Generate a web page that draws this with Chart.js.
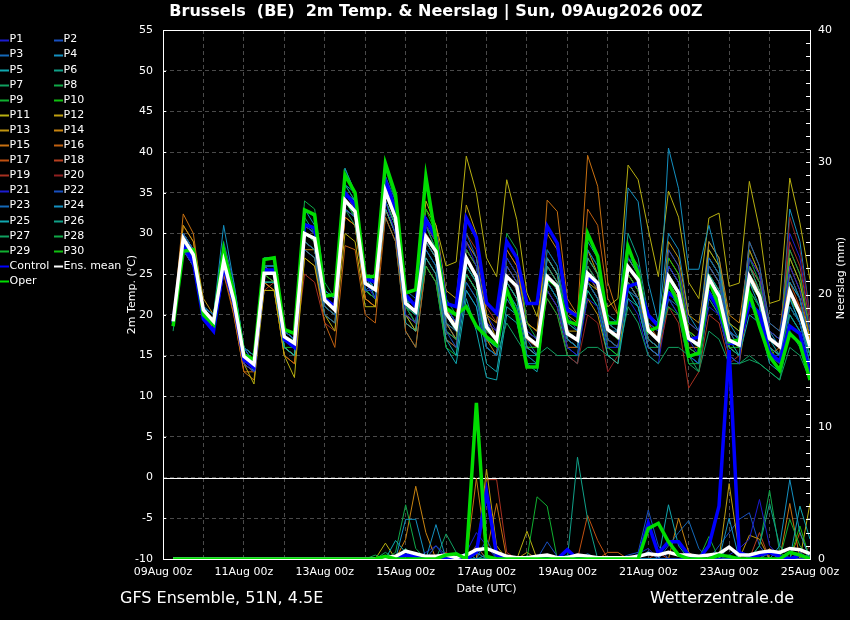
<!DOCTYPE html>
<html>
<head>
<meta charset="utf-8">
<script src="https://cdn.jsdelivr.net/npm/chart.js@4.4.1/dist/chart.umd.min.js"></script>
<style>
  html, body { margin: 0; padding: 0; background: #000; }
  canvas { display: block; }
</style>
</head>
<body>
<canvas id="ensChart" width="850" height="620"></canvas>
<script>
// GFS ensemble plume, Brussels: 2m temperature (left axis) and 6h precipitation (right axis)
// one value per 6 hours, from +6h (09Aug 06z) to +384h (25Aug 00z)

const dateLabels = ['09Aug 00z', '11Aug 00z', '13Aug 00z', '15Aug 00z', '17Aug 00z',
  '19Aug 00z', '21Aug 00z', '23Aug 00z', '25Aug 00z'];

const tempMean = [19.2,29.4,27.4,20.6, 19.2,26.6,21.8,14.9, 13.9,25.1,25.1,17.3, 16.5,30.0,29.4,21.8,
  20.6,34.1,32.7,23.9, 23.1,35.2,31.9,21.4, 20.4,29.6,27.8,20.2, 18.4,27.0,24.7,18.5,
  16.9,24.7,23.5,17.3, 16.3,24.7,23.5,17.7, 16.9,25.1,23.9,18.2, 17.3,25.9,24.3,18.1,
  16.9,24.7,22.7,17.1, 16.3,24.5,22.3,16.9, 16.3,24.7,22.3,17.1, 16.1,22.9,20.2,16.1];
const tempCtrl = [19.0,28.5,26.5,19.5, 18.0,26.0,21.5,14.5, 13.5,25.5,25.5,17.0, 16.0,31.1,30.7,22.0,
  21.0,35.0,33.5,24.5, 24.0,36.5,33.0,22.5, 21.0,31.7,29.5,21.4, 21.0,31.9,29.5,21.5,
  20.2,29.0,27.0,21.4, 21.4,30.9,28.8,20.6, 19.8,24.5,23.9,19.0, 19.0,23.5,23.9,20.0,
  18.6,22.7,21.8,16.9, 17.3,22.7,20.6,16.5, 16.5,21.4,20.2,15.3, 14.3,18.6,17.7,12.8];
const tempOper = [18.6,27.8,28.0,20.0, 18.8,28.0,22.7,15.1, 14.5,26.8,27.0,18.2, 17.7,32.9,32.3,22.3,
  22.5,37.2,35.0,24.7, 24.7,38.6,34.8,22.7, 23.1,37.0,29.2,20.8, 20.0,21.0,18.6,17.3,
  16.3,23.1,20.0,13.6, 13.6,24.5,23.5,19.2, 18.8,30.0,27.2,19.0, 19.0,28.4,25.1,18.0,
  18.5,23.9,21.4,14.9, 15.3,24.3,21.0,16.7, 16.9,22.7,18.6,14.9, 13.2,17.7,16.5,12.0];

const t01 = [19,28,26,20, 18,26,21,14, 13,25,25,17, 16,31,30,22, 21,35,33,24, 22,34,30,20, 19,31,29,21, 19,29,26,19, 18,27,25,18, 17,23,21,16, 15,22,21,16, 16,27,26,19, 18,26,24,17, 15,21,20,15, 14,27,25,18, 17,26,23,18];
const t02 = [19,30,28,21, 20,28,23,16, 14,26,26,18, 17,29,28,21, 20,33,32,23, 23,36,33,22, 21,28,26,18, 16,24,22,16, 15,26,24,18, 17,28,26,20, 18,24,22,17, 16,23,22,16, 15,28,26,19, 18,27,25,18, 17,22,20,15, 15,21,19,14];
const t03 = [19,28,26,20, 18,28,23,16, 15,26,25,17, 16,28,27,20, 19,33,32,23, 24,37,34,23, 22,32,29,21, 19,30,27,19, 17,22,20,15, 14,24,22,17, 16,28,26,19, 18,24,22,17, 16,22,21,15, 14,26,24,18, 17,29,26,19, 18,25,22,16];
const t04 = [19,30,28,21, 20,31,24,16, 14,26,26,18, 17,33,31,23, 22,38,35,25, 24,36,33,22, 20,29,27,19, 18,26,24,17, 16,24,22,16, 15,27,25,19, 18,29,27,20, 19,27,25,19, 18,40.5,35.5,25.6, 25.6,31,26,18, 16,24,21,16, 15,22,19,15];
const t05 = [19,29,27,21, 19,26,21,15, 13,24,24,16, 15,31,30,22, 21,35,34,25, 22,33,30,19, 18,27,25,17, 15,23,21,14, 13,21,20,14, 14,25,23,17, 16,23,21,15, 14,22,21,16, 15,26,24,17, 16,25,23,17, 15,20,19,14, 13,24,22,16];
const t06 = [19,29,27,20, 19,28,23,16, 15,27,27,18, 17,32,30,23, 22,36,34,25, 24,34,31,21, 20,32,30,21, 19,25,23,16, 15,23,21,15, 15,26,24,18, 17,27,25,19, 18,30,27,20, 19,25,23,17, 16,23,21,16, 15,26,23,17, 16,20,18,13];
const t07 = [18,28,26,20, 18,27,22,15, 14,24,24,16, 15,30,29,22, 21,33,31,23, 22,34,31,21, 20,28,26,18, 17,24,22,16, 15,19,17,15, 15,16,15,15, 15,16,16,15, 15,21,19,15, 14,16,16,15, 13,22,20,15, 14,15,14,13, 12,18,16,12];
const t08 = [19,30,28,21, 19,28,22,15, 14,26,26,17, 17,33,32,23, 22,37,35,25, 24,38,34,22, 21,31,28,20, 18,28,26,18, 17,30,28,19, 17,24,22,17, 16,26,24,18, 17,23,22,17, 16,23,21,16, 15,27,25,18, 17,27,24,18, 17,28,25,18];
const t09 = [19,29,28,21, 20,27,22,15, 14,25,25,17, 16,29,28,21, 20,34,33,24, 23,35,32,21, 19,26,24,16, 15,26,24,17, 16,27,25,18, 17,22,20,15, 15,24,22,17, 16,25,23,18, 17,21,20,14, 14,23,21,16, 15,24,22,16, 15,22,20,15];
const t10 = [19,28,27,21, 19,27,23,16, 15,25,24,16, 16,30,29,22, 21,34,32,23, 22,36,33,22, 21,33,30,21, 19,25,23,17, 16,24,22,16, 16,28,26,19, 18,23,21,16, 15,28,26,19, 18,27,25,18, 17,25,23,17, 16,23,21,16, 14,21,19,15];
const t11 = [19,28,26,20, 19,26,21,14, 11.5,23,23,15, 12.3,27,26,20, 18,30,29,21, 21,34,31,20, 18,34,31,26, 26.5,39.5,35,27, 24.7,36.6,31.7,22.7, 19.8,27,25,21, 20,24,23,21, 22,38.4,36.6,30.5, 24.7,35.2,32,24, 22,31.9,32.5,23.5, 23.9,36.4,30.5,21.4, 21.8,36.8,31.3,24.3];
const t12 = [19,30,28,21, 20,28,23,16, 15,26,25,17, 16,31,30,22, 21,35,33,24, 23,37,33,22, 21,33,31,23, 22,33.5,30,20, 17,24,22,16, 15,26,24,18, 18,28,25,18, 17,24,22,17, 16,27,25,18, 17,28,26,19, 18,24,22,16, 15,27,24,18];
const t13 = [19,31,29,22, 20,26,21,14, 13,24,24,16, 15,29,28,21, 20,33,32,23, 22,34,31,20, 19,29,27,19, 17,29,27,20, 19,29,27,19, 18,25,23,17, 16,22,20,15, 14,25,23,17, 16,29,27,20, 19,27,25,18, 17,26,23,17, 16,25,22,17];
const t14 = [19,29,27,21, 19,26,21,15, 14,24,23,16, 15,28,28,21, 20,32,31,22, 21,35,33,22, 21,31,29,21, 18,26,24,17, 15,28,26,19, 18,30,28,20, 19,27,25,19, 18,24,22,16, 15,24,22,16, 16,29,27,20, 19,28,25,18, 17,22,20,15];
const t15 = [19,32.4,30,21, 18,26,20,13, 12,24,23,15, 14,28,27,20, 19,32,31,22, 21,33,30,19, 18,27,25,18, 17,25,23,17, 16,24,22,16, 16,34.1,32.7,22, 20,39.6,35.8,24, 20,27,25,19, 18,26,24,18, 17,23,21,15, 14,22,20,15, 16,26,23,17];
const t16 = [19,31,29,21, 18,25,20,13, 13,23,23,15, 14,27,26,19, 16,28.5,28,20, 19,32,29,18, 16,26,24,17, 16,25,23,16, 15,27,25,18, 17,25,23,17, 16,33,31,22, 20,28,26,19, 17,24,22,16, 15,26,24,18, 17,29,26,19, 18,28,25,18];
const t17 = [19,30,28,21, 19,27,22,15, 14,25,24,16, 15,29,28,21, 20,32,31,22, 21,33,30,19, 18,30,28,20, 19,28,26,19, 18,26,24,18, 17,23,21,16, 16,24,22,17, 16,27,25,19, 18,25,23,17, 16,24,22,16, 15,25,23,17, 16,24,21,16];
const t18 = [19,28,26,20, 18,27,22,15, 14,25,25,17, 16,30,29,22, 21,34,33,24, 23,34,31,20, 19,31,29,21, 20,28,26,19, 17,26,24,17, 16,27,25,18, 17,26,24,17, 16,25,23,17, 16,28,26,19, 18,25,23,17, 16,26,24,18, 17,23,21,16];
const t19 = [19,28,27,21, 19,25,21,14, 13,23,24,16, 15,25,24,19, 18,32,31,22, 21,33,30,19, 18,29,27,19, 18,30,28,21, 19,28,26,19, 18,26,24,17, 16,25,23,17, 16,24,22,16, 15,21,19,11, 13,20,19,14, 15,27,25,18, 17,29,26,19];
const t20 = [19,29,27,21, 19,27,22,15, 14,25,25,17, 16,30,29,22, 21,33,32,23, 22,35,32,21, 20,31,29,21, 19,27,25,18, 17,25,23,17, 16,22,20,15, 14,20,19,13, 15,24,22,17, 16,26,24,18, 17,26,24,18, 16,24,22,16, 15,32,28,20];
const t21 = [19,29,27,21, 19,27,22,15, 14,25,25,17, 16,31,30,22, 21,35,33,24, 23,34,31,20, 19,30,28,19, 17,29,27,20, 18,23,21,16, 15,25,23,17, 16,26,24,18, 17,22,20,15, 14,22,20,15, 14,26,24,18, 16,23,21,15, 14,30,27,19];
const t22 = [19,29,27,21, 20,29,24,16, 15,27,27,18, 17,31,30,22, 21,34,32,24, 23,36,33,22, 21,29,27,20, 18,23,21,16, 15,24,22,16, 16,26,24,18, 17,24,22,17, 16,27,25,19, 18,23,21,16, 15,22,20,15, 14,27,25,18, 17,24,22,16];
const t23 = [19,28,26,20, 18,25,21,14, 13,24,24,16, 15,29,28,21, 20,34,33,24, 23,35,32,21, 19,27,25,17, 16,27,25,18, 17,25,23,17, 15,24,22,16, 15,25,23,17, 16,24,22,17, 16,24,22,16, 15,23,21,16, 15,22,20,15, 13,20,18,13];
const t24 = [19,29,27,21, 19,28,23,16, 14,25,24,17, 16,30,29,22, 21,36,35,25, 23,36,33,22, 21,31,28,20, 18,28,26,19, 17,26,24,17, 16,25,23,17, 16,26,24,18, 18,35.6,33.9,24, 19,30,28,20, 18,29,27,19, 17,26,24,18, 16,33,29,20];
const t25 = [19,30,28,21, 20,28,23,15, 14,26,25,17, 16,29,28,21, 20,34,32,23, 22,32,29,18, 16,26,24,16, 14,22,18,12.3, 12,20,19,14, 13,23,21,15, 14,24,22,16, 15,23,21,16, 15,24,22,15, 14,26,24,17, 16,25,23,17, 15,22,19,14];
const t26 = [19,29,27,20, 19,26,21,14, 13,24,24,16, 15,30,29,22, 21,35,34,25, 23,33,30,20, 19,29,27,19, 17,26,24,17, 16,25,23,16, 15,24,22,17, 16,28,26,19, 18,25,23,17, 16,24,22,16, 15,27,25,18, 17,23,21,15, 14,21,19,14];
const t27 = [19,28,26,20, 19,27,22,15, 14,25,25,17, 16,33,32,23, 22,36,34,25, 23,34,31,20, 18,28,26,18, 17,25,23,16, 15,23,21,15, 15,27,25,18, 17,25,23,17, 16,23,21,16, 15,22,20,14, 13,18,17,14, 14,14.5,14,13, 12,16,15,12];
const t28 = [19,30,28,21, 20,28,23,16, 15,26,26,18, 17,34,33,24, 22,38,35,25, 24,37,33,22, 21,31,29,21, 19,26,24,17, 16,29,27,19, 18,27,25,18, 17,25,23,17, 16,24,22,16, 16,26,24,18, 16,28,26,19, 18,25,23,17, 16,27,24,17];
const t29 = [19,29,27,21, 19,26,21,14, 13,24,24,16, 15,28,27,20, 19,33,32,23, 22,35,32,21, 20,32,30,22, 20,25,23,16, 15,22,20,15, 14,24,22,16, 16,27,25,18, 17,26,24,18, 17,23,21,15, 14,25,23,17, 16,28,25,18, 17,20,18,13];
const t30 = [19,28,27,21, 19,28,23,16, 15,26,26,18, 17,31,30,22, 21,34,33,24, 23,36,33,22, 20,30,28,20, 18,27,25,18, 17,25,23,17, 16,24,22,17, 16,24,22,16, 16,25,23,17, 16,25,23,17, 16,24,22,16, 16,23,21,16, 15,23,20,15];

const rainMean = [0,0,0,0,0,0,0,0,0,0,0,0,0,0,0,0,0,0,0, 0, 0,0.1,0.2,0.6, 0.4,0.2,0.2,0.3, 0.1,0.3,0.7,0.8, 0.5,0.2,0.1,0.1, 0.2,0.3,0.1,0.1, 0.3,0.2,0.1,0.1, 0.1,0.1,0.2,0.4, 0.3,0.5,0.3,0.3, 0.2,0.3,0.4,0.9, 0.3,0.3,0.5,0.6, 0.5,0.8,0.7,0.4];
const rainCtrl = [0,0,0,0,0,0,0,0,0,0,0,0,0,0,0,0,0,0,0, 0, 0,0,0,0.3, 0.2,0,0,0, 0,0,0.5,5.1, 0.3,0,0,0, 0,0,0,0.7, 0,0,0,0, 0,0,0,2.7, 0.4,1.3,1.3,0.3, 0,1.0,4.0,15.8, 0.5,0.2,0.3,0.5, 0.2,0,0.3,0];
const rainOper = [0,0,0,0,0,0,0,0,0,0,0,0,0,0,0,0,0,0,0, 0, 0,0.2,0,0, 0,0,0,0.3, 0.4,0,11.8,0.2, 0,0,0,0, 0,0,0,0, 0,0,0,0, 0,0,0,2.3, 2.7,1.3,0.3,0, 0,0,0.3,0.2, 0,0,0,0, 0,0.5,0.3,0];

const r01 = [0,0,0,0,0,0,0,0,0,0,0,0,0,0,0,0,0,0,0, 0, 0,0,0,0.3, 0.5,0,0,0, 0,0.5,2.0,1.0, 0,0,0,0, 0,0,0,0, 0,0,0,0, 0,0,0.4,0.8, 0,0,0,0, 0,0,0,0.3, 0.8,1.5,4.5,1.0, 0.2,0,0,0];
const r02 = [0,0,0,0,0,0,0,0,0,0,0,0,0,0,0,0,0,0,0, 0, 0,0,0,0, 0,0,1.0,0.3, 0,0,0.5,0.8, 0.5,0,0,0, 0,1.3,0.2,0, 0,0,0,0, 0,0.3,0.5,3.7, 1.0,0,0,0, 0,0,0,0, 0,0,0,0, 0,0,0.5,0];
const r03 = [0,0,0,0,0,0,0,0,0,0,0,0,0,0,0,0,0,0,0, 0, 0,0,0,0, 0,0,0,0, 0,0,0,1.5, 0,0,0,0, 0,0,0,0, 0,0.4,0,0, 0,0,0,0, 0,1.0,2.0,2.9, 0.8,0,0,0, 0,0,0,0.5, 0,0,0,0.4];
const r04 = [0,0,0,0,0,0,0,0,0,0,0,0,0,0,0,0,0,0,0, 0, 0,0,0,3.0, 3.0,0,2.6,0, 0,0,0.5,0, 0,0,0,0, 0,0,0,0, 0,0,0,0, 0,0,0,0, 0,0,0,0, 0,0,0,3.1, 0,0,0,0, 1.0,6.0,2.0,0];
const r05 = [0,0,0,0,0,0,0,0,0,0,0,0,0,0,0,0,0,0,0, 0, 0,0,1.4,0.5, 0,0,0,0, 0,0.5,0,0.3, 0,0,0,0, 0,0,0,0.3, 0,0,0,0, 0,0,0,0, 0,4.1,1.0,0, 0,0,0,0, 0,0,0,0, 0,0,4.0,1.5];
const r06 = [0,0,0,0,0,0,0,0,0,0,0,0,0,0,0,0,0,0,0, 0, 0,0,0,0, 0,0,0,0, 0,0,0,0, 0,0,0,0, 0,0,0,0, 7.7,3.0,0,0, 0,0,0,0, 0,0,0,0, 0,0,0,0, 0,0,1.0,4.2, 1.0,0,0,0];
const r07 = [0,0,0,0,0,0,0,0,0,0,0,0,0,0,0,0,0,0,0, 0, 0,0.5,0,0.8, 0,0,0,1.9, 0.5,0,0,0, 0,0,0,0, 0,0,0,0, 0,0,0,0, 0,0,0,0, 0,0,0,0, 0,0,0,0, 0,0,0,0, 0,0,0,0];
const r08 = [0,0,0,0,0,0,0,0,0,0,0,0,0,0,0,0,0,0,0, 0, 0.3,0,0.5,4.1, 0.8,0,0,0, 0,0,0,0, 0,0,0,0, 0,0,0,0, 0,0,0,0, 0,0,0,0, 0,0,0,0, 0,0,0,0, 0,0,1.0,5.2, 0.5,0,0,0];
const r09 = [0,0,0,0,0,0,0,0,0,0,0,0,0,0,0,0,0,0,0, 0, 0,0,0,0, 0,0,0,0, 0,0,0,0, 0,0,0,0, 4.7,4.0,0,0, 0,0,0,0, 0,0,0,0, 0,0,0,0, 0,1.7,0,0, 0,0,0,0, 0,3.0,1.0,0];
const r10 = [0,0,0,0,0,0,0,0,0,0,0,0,0,0,0,0,0,0,0, 0, 0,0,0,0, 0,0,0,0, 0,0,0,0, 0,0,0,0, 0,0,0,0, 0,0,0,0, 0,0,0,0, 0,0,0,0, 0,0,0,0, 0,0,0,0.5, 0,0,2.5,0];
const r11 = [0,0,0,0,0,0,0,0,0,0,0,0,0,0,0,0,0,0,0, 0, 0,1.2,0,0, 0,0,0,0, 0,0,0,0, 0,0,0,2.1, 0,0,0,0, 0,0,0,0, 0,0,0,0, 0,0,0,0, 0,0,0,0, 0,0,0,0, 0,0,0,4.2];
const r12 = [0,0,0,0,0,0,0,0,0,0,0,0,0,0,0,0,0,0,0, 0, 0,0,0,0, 0,0,0,0, 0,0,0,6.8, 1.0,0,0,0, 0,0,0,0, 0,0,0,0, 0,0,0,0, 0,0,0,0, 0,0,0,5.7, 0.5,0,0,0, 0,0,0,0];
const r13 = [0,0,0,0,0,0,0,0,0,0,0,0,0,0,0,0,0,0,0, 0, 0,0,0,0, 0,0,0,0, 0,0,0,0, 0,0,0,0.5, 0,0,0,0, 0,0,0,0, 0,0,0,0, 0,0,0,0, 0,0,0,0, 0,1.8,1.5,0, 0,0,0,0];
const r14 = [0,0,0,0,0,0,0,0,0,0,0,0,0,0,0,0,0,0,0, 0, 0,0,0,1.5, 5.5,2.0,0,0, 0,0,0,0, 0,0,0,0, 0,0,0,0, 0,0,0,0, 0,0,0,0, 0,0,3.1,0.5, 0,0,0,0, 0,0,0,0, 0,0,0,0];
const r15 = [0,0,0,0,0,0,0,0,0,0,0,0,0,0,0,0,0,0,0, 0, 0,0,0,0, 0,0,0,0, 0,0,6.1,0.5, 4.2,0,0,0, 0,0,0,0, 0,0,0,0, 0,0,0,0, 0,0,0,0, 0,0,0,0, 0,0,0,0, 0,4.2,0,0];
const r16 = [0,0,0,0,0,0,0,0,0,0,0,0,0,0,0,0,0,0,0, 0, 0,0,0,0, 0,0,0,0, 0,0,0,0, 0,0,0,0, 0,0,0,0, 0,0,0,0.5, 0.5,0,0,0, 0,0,0,0, 0,0,0,0, 0,0,0,0.8, 0,0,2.0,0];
const r17 = [0,0,0,0,0,0,0,0,0,0,0,0,0,0,0,0,0,0,0, 0, 0,0,0,0, 0,0,0,0, 0,0,0,0, 0,0,0,0, 0,0,0,0, 0,3.3,1.4,0, 0,0,0,0, 0,0,0,0, 0,0,0,0, 0,0,0,0, 0,0,0,0];
const r18 = [0,0,0,0,0,0,0,0,0,0,0,0,0,0,0,0,0,0,0, 0, 0,0,0,0, 0,0,0,0.5, 0,0,1.0,0, 0,0,0,0, 0,0,0,0, 0,0,0,0, 0,0,0,0, 0.5,0,0,0, 0,0,0,0, 0,0,2.0,0, 0,0,0,0];
const r19 = [0,0,0,0,0,0,0,0,0,0,0,0,0,0,0,0,0,0,0, 0, 0,0,0,0, 0,0,0,0, 0,0,0,6.0, 6.0,0.5,0,0, 0,0,0,0, 0,0,0,0, 0,0,0,0, 0,0,0,0, 0,0,0,0, 0,0,0,0, 0,0,0,0];
const r20 = [0,0,0,0,0,0,0,0,0,0,0,0,0,0,0,0,0,0,0, 0, 0,0,0,0, 0,0,0,0, 0,0,0,0, 0,0,0,0, 0,0,0,0, 0,0,0,0, 0,0,0,0, 0,0,0,0, 0,0,0,0, 0,0,0,0, 0,0,0,1.0];
const r21 = [0,0,0,0,0,0,0,0,0,0,0,0,0,0,0,0,0,0,0, 0, 0,0,0,0, 0,0.5,1.0,0, 0,0,0,0, 0,0,0,0, 0,0,0,0, 0,0,0,0, 0,0,0,0, 0,0,0,0, 0,0,0,0, 0,0,0,0, 0,0,0,0];
const r22 = [0,0,0,0,0,0,0,0,0,0,0,0,0,0,0,0,0,0,0, 0, 0,0,0,0, 0,0,0,0, 0,0,0,0, 0,0,0,0, 0,0,0,0, 0,0,0,0, 0,0,0,0, 0,0,0,0, 0,0,1.0,2.0, 3.0,3.5,1.0,0, 0,0,0,0];
const r23 = [0,0,0,0,0,0,0,0,0,0,0,0,0,0,0,0,0,0,0, 0, 0,0,0,0, 0,0,0,0, 0,0,0,0, 0,0,0,0, 0,0,0,0, 0,0,0,0, 0,0,0,0.6, 0,0,0,0, 0,0,0,0, 0,0,0,0, 0,0,0,0];
const r24 = [0,0,0,0,0,0,0,0,0,0,0,0,0,0,0,0,0,0,0, 0, 0,0,0,0, 0,0,0,0, 0,0,1.0,0, 0,0,0,0, 0,0,0,0, 0,0,0,0, 0,0,0,0, 0,0,0,0, 0,0,0,1.0, 0,0,0,0, 0,0,0,0];
const r25 = [0,0,0,0,0,0,0,0,0,0,0,0,0,0,0,0,0,0,0, 0, 0,0,0,0, 0,0,0,0, 0,0,0,0, 0,0,0,0, 0,0,0,0, 0,0,0,0, 0,0,0,0, 0,0,0,0, 0,0,0,0, 0,0,0,0, 0,0,0,0];
const r26 = [0,0,0,0,0,0,0,0,0,0,0,0,0,0,0,0,0,0,0, 0, 0,0,0,0, 0,0,0,0, 0,0,0,0, 0,0,0,0, 0,0,0,0, 0,0,0,0, 0,0,0,0, 0,0,0,0, 0,0,0,0, 0,0,0,0, 0,0,0,0];
const r27 = [0,0,0,0,0,0,0,0,0,0,0,0,0,0,0,0,0,0,0, 0, 0,0,0,0, 0,0,0,0, 0,0,0,0, 0,0,0,0, 0,0,0,0, 0,0,0,0, 0,0,0,0, 0,0,0,0, 0,0,0,0, 0,0,0,0, 0,0,0,0];
const r28 = [0,0,0,0,0,0,0,0,0,0,0,0,0,0,0,0,0,0,0, 0, 0,0,0,0, 0,0,0,0, 0,0,0,0, 0,0,0,0, 0,0,0,0, 0,0,0,0, 0,0,0,0, 0,0,0,0, 0,0,0,0, 0,0,0,0, 0,0,0,0];
const r29 = [0,0,0,0,0,0,0,0,0,0,0,0,0,0,0,0,0,0,0, 0, 0,0,0,0, 0,0,0,0, 0,0,0,0, 0,0,0,0, 0,0,0,0, 0,0,0,0, 0,0,0,0, 0,0,0,0, 0,0,0,0, 0,0,0,0, 0,0,0,0];
const r30 = [0,0,0,0,0,0,0,0,0,0,0,0,0,0,0,0,0,0,0, 0, 0,0,0,0, 0,0,0,0, 0,0,0,0, 0,0,0,0, 0,0,0,0, 0,0,0,0, 0,0,0,0, 0,0,0,0, 0,0,0,0, 0,0,0,0, 0,0,0,0];

const tempMembers = [t01,t02,t03,t04,t05,t06,t07,t08,t09,t10,t11,t12,t13,t14,t15,t16,t17,t18,t19,t20,t21,t22,t23,t24,t25,t26,t27,t28,t29,t30];
const rainMembers = [r01,r02,r03,r04,r05,r06,r07,r08,r09,r10,r11,r12,r13,r14,r15,r16,r17,r18,r19,r20,r21,r22,r23,r24,r25,r26,r27,r28,r29,r30];

// member colours, P1..P20, then P21..P30 repeat P1..P10
const baseColors = ['#1c1cd0','#1850c0','#1468b8','#1490c0','#10a8b0','#10a088','#10a060','#10a848','#10b030','#10c010',
  '#b8b010','#c0a010','#c09410','#c88410','#c87010','#c06010','#c05010','#b84020','#a83020','#902020'];
const memberColors = baseColors.concat(baseColors.slice(0, 10));
const ctrlColor = '#0000ff', operColor = '#00dd00', meanColor = '#ffffff';

const toPoints = vals => vals.map((v, i) => ({ x: (i + 1) * 6, y: v }));

const datasets = [];
datasets.push({ label: 'Oper', data: toPoints(rainOper), yAxisID: 'y2', borderColor: operColor, borderWidth: 3.5, order: 0 });
datasets.push({ label: 'Ens. mean', data: toPoints(rainMean), yAxisID: 'y2', borderColor: meanColor, borderWidth: 3.5, order: 1 });
datasets.push({ label: 'Control', data: toPoints(rainCtrl), yAxisID: 'y2', borderColor: ctrlColor, borderWidth: 3.5, order: 2 });
datasets.push({ label: 'Ens. mean', data: toPoints(tempMean), yAxisID: 'y', borderColor: meanColor, borderWidth: 3.5, order: 3 });
datasets.push({ label: 'Oper', data: toPoints(tempOper), yAxisID: 'y', borderColor: operColor, borderWidth: 3.5, order: 4 });
datasets.push({ label: 'Control', data: toPoints(tempCtrl), yAxisID: 'y', borderColor: ctrlColor, borderWidth: 3.5, order: 5 });
tempMembers.forEach((m, i) => {
  datasets.push({ label: 'P' + (i + 1), data: toPoints(m), yAxisID: 'y', borderColor: memberColors[i], borderWidth: 1, order: 10 });
});
rainMembers.forEach((m, i) => {
  datasets.push({ label: 'P' + (i + 1), data: toPoints(m), yAxisID: 'y2', borderColor: memberColors[i], borderWidth: 1, order: 10 });
});

const legendItems = memberColors.map((c, i) => ({ name: 'P' + (i + 1), color: c }))
  .concat([{ name: 'Control', color: ctrlColor }, { name: 'Ens. mean', color: meanColor }, { name: 'Oper', color: operColor }]);

const FONT = '"DejaVu Sans", sans-serif';
Chart.defaults.font.family = FONT;
Chart.defaults.font.size = 11;
Chart.defaults.color = '#ffffff';

const decorations = {
  id: 'decorations',
  beforeDraw(chart) {
    const ctx = chart.ctx;
    ctx.save();
    ctx.fillStyle = '#000';
    ctx.fillRect(0, 0, chart.width, chart.height);
    ctx.restore();
  },
  beforeDatasetsDraw(chart) {
    const { ctx, chartArea: a, scales } = chart;
    const y0 = Math.round(scales.y.getPixelForValue(0)) + 0.5;
    ctx.save();
    ctx.strokeStyle = '#ffffff';
    ctx.lineWidth = 1;
    ctx.beginPath();
    ctx.moveTo(a.left, y0);
    ctx.lineTo(a.right, y0);
    ctx.stroke();
    ctx.restore();
  },
  afterDatasetsDraw(chart) {
    const { ctx, chartArea: a, scales } = chart;
    ctx.save();
    ctx.strokeStyle = '#ffffff';
    ctx.lineWidth = 1;
    ctx.strokeRect(Math.round(a.left) + 0.5, Math.round(a.top) + 0.5, Math.round(a.right - a.left), Math.round(a.bottom - a.top));
    ctx.beginPath();
    for (let v = -10; v <= 55; v += 5) {
      const y = Math.round(scales.y.getPixelForValue(v)) + 0.5;
      ctx.moveTo(a.left, y); ctx.lineTo(a.left + 3, y);
    }
    for (let v = 0; v <= 40; v += 1) {
      const y = Math.round(scales.y2.getPixelForValue(v)) + 0.5;
      ctx.moveTo(a.right - 4, y); ctx.lineTo(a.right, y);
    }
    ctx.stroke();
    ctx.restore();
  },
  afterDraw(chart) {
    const { ctx, chartArea: a } = chart;
    ctx.save();
    ctx.fillStyle = '#ffffff';
    ctx.textBaseline = 'middle';

    ctx.font = 'bold 16px ' + FONT;
    ctx.textAlign = 'center';
    ctx.fillText('Brussels  (BE)  2m Temp. & Neerslag | Sun, 09Aug2026 00Z', 436, 12);

    ctx.font = '16px ' + FONT;
    ctx.textAlign = 'left';
    ctx.fillText('GFS Ensemble, 51N, 4.5E', 120, 599);
    ctx.textAlign = 'right';
    ctx.fillText('Wetterzentrale.de', 794, 599);

    ctx.font = '11px ' + FONT;
    ctx.textAlign = 'center';
    ctx.fillText('Date (UTC)', (a.left + a.right) / 2, 589);

    ctx.save();
    ctx.translate(132, (a.top + a.bottom) / 2);
    ctx.rotate(-Math.PI / 2);
    ctx.fillText('2m Temp. (°C)', 0, 0);
    ctx.restore();
    ctx.save();
    ctx.translate(841, 278);
    ctx.rotate(-Math.PI / 2);
    ctx.fillText('Neerslag (mm)', 0, 0);
    ctx.restore();

    // legend, two columns, row by row
    ctx.textAlign = 'left';
    legendItems.forEach((item, j) => {
      const col = j % 2, row = Math.floor(j / 2);
      const y = 39.5 + row * 15.1;
      const x0 = col === 0 ? 0 : 54;
      ctx.strokeStyle = item.color;
      ctx.lineWidth = 2;
      ctx.beginPath();
      ctx.moveTo(x0, Math.round(y) + 0.5);
      ctx.lineTo(x0 + 9, Math.round(y) + 0.5);
      ctx.stroke();
      ctx.fillStyle = '#ffffff';
      ctx.fillText(item.name, x0 + 9.5, y);
    });
    ctx.restore();
  }
};

new Chart(document.getElementById('ensChart'), {
  type: 'line',
  data: { datasets: datasets },
  options: {
    responsive: false,
    animation: false,
    events: [],
    parsing: true,
    elements: {
      point: { radius: 0 },
      line: { tension: 0, fill: false }
    },
    layout: { padding: { top: 30, left: 0, right: 0, bottom: 0 } },
    plugins: {
      legend: { display: false },
      tooltip: { enabled: false },
      title: { display: false }
    },
    scales: {
      x: {
        type: 'linear',
        min: 0,
        max: 384,
        ticks: {
          stepSize: 24,
          autoSkip: false,
          maxRotation: 0,
          padding: 7,
          color: '#ffffff',
          callback: v => (v % 48 === 0 ? dateLabels[v / 48] : '')
        },
        grid: { color: '#4a4a4a', drawTicks: false },
        border: { display: false, dash: [4, 3] },
        afterFit(scale) { scale.height = 61; }
      },
      y: {
        position: 'left',
        min: -10,
        max: 55,
        ticks: { stepSize: 5, padding: 10, color: '#ffffff' },
        grid: { color: '#4a4a4a', drawTicks: false },
        border: { display: false, dash: [4, 3] },
        afterFit(scale) { scale.width = 163; }
      },
      y2: {
        position: 'right',
        min: 0,
        max: 40,
        ticks: {
          stepSize: 1,
          autoSkip: false,
          padding: 8,
          color: '#ffffff',
          callback: v => (v % 10 === 0 ? v : '')
        },
        grid: { display: false, drawTicks: false },
        border: { display: false },
        afterFit(scale) { scale.width = 40; }
      }
    }
  },
  plugins: [decorations]
});
</script>
</body>
</html>
